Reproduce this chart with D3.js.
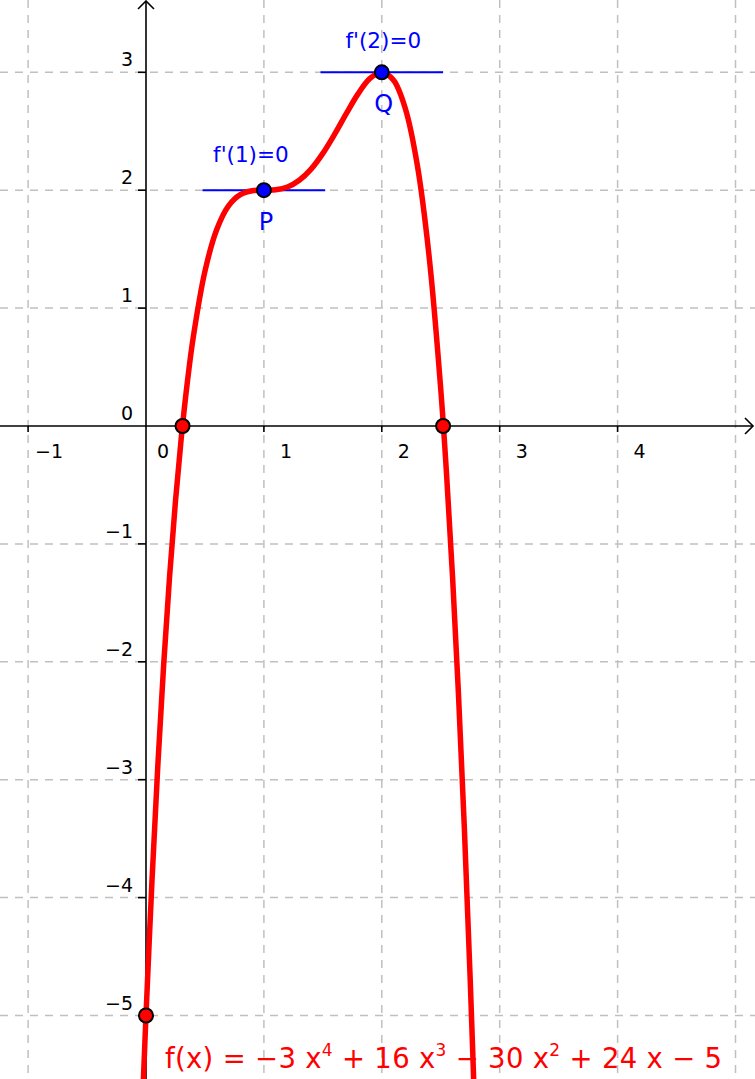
<!DOCTYPE html>
<html><head><meta charset="utf-8">
<script src="https://cdnjs.cloudflare.com/ajax/libs/d3/7.8.5/d3.min.js"></script>
<style>html,body{margin:0;padding:0;background:#fff;}svg{display:block;font-family:"DejaVu Sans",sans-serif;}</style>
</head><body>
<script>
// Curve samples: f(x) = -3x^4 + 16x^3 - 30x^2 + 24x - 5
const curveX = [-0.025,0,0.05,0.1,0.15,0.2,0.25,0.3,0.35,0.4,0.5,0.6,0.7,0.8,0.9,1.0,1.1,1.2,1.3,1.4,1.5,1.6,1.7,1.8,1.9,2.0,2.1,2.2,2.3,2.4,2.5,2.55,2.6,2.65,2.7,2.75,2.8];
const curveY = [-5.619,-5,-3.873,-2.884,-2.023,-1.277,-0.637,-0.092,0.366,0.747,1.3125,1.667,1.868,1.963,1.9957,2,2.0037,2.027,2.084,2.179,2.3125,2.475,2.652,2.819,2.948,3,2.932,2.691,2.220,1.451,0.3125,-0.4205,-1.277,-2.2675,-3.404,-4.699,-6.165];
const redPointsX = [0.31, 2.52, 0];
const redPointsY = [0, 0, -5];
const bluePointsX = [1, 2];
const bluePointsY = [2, 3];
const bluePointNames = ["P", "Q"];
const tangentLabels = ["f'(1)=0", "f'(2)=0"];
const tangentHalfWidth = 0.52;
const xTicks = [-1, 0, 1, 2, 3, 4];
const yTicks = [3, 2, 1, 0, -1, -2, -3, -4, -5];
const xGrid = [-1, 0, 1, 2, 3, 4, 5];
const yGrid = [3, 2, 1, 0, -1, -2, -3, -4, -5];

const W = 755, H = 1079;
const unit = 117.9;
const x0 = 146, y0 = 426;
const x = d3.scaleLinear().domain([-x0/unit, (W - x0)/unit]).range([0, W]);
const y = d3.scaleLinear().domain([-(H - y0)/unit, y0/unit]).range([H, 0]);
const fmt = v => v < 0 ? "\u2212" + Math.abs(v) : String(v);

const svg = d3.select("body").append("svg").attr("width", W).attr("height", H);

// grid
const grid = svg.append("g").attr("stroke", "#c0c0c0").attr("stroke-width", 1.5).attr("stroke-dasharray", "8,7");
grid.selectAll(".gx").data(xGrid.filter(v => v !== 0)).join("line")
  .attr("x1", d => x(d)).attr("x2", d => x(d)).attr("y1", 0).attr("y2", H);
grid.selectAll(".gy").data(yGrid.filter(v => v !== 0)).join("line")
  .attr("x1", 0).attr("x2", W).attr("y1", d => y(d)).attr("y2", d => y(d));

// axes
const ax = svg.append("g").attr("stroke", "#000").attr("stroke-width", 1.6).attr("fill", "none");
ax.append("line").attr("x1", 0).attr("x2", W - 2).attr("y1", y(0)).attr("y2", y(0));
ax.append("line").attr("x1", x(0)).attr("x2", x(0)).attr("y1", 1).attr("y2", H);
ax.append("path").attr("d", `M${W-10},${y(0)-8} L${W-2},${y(0)} L${W-10},${y(0)+8}`);
ax.append("path").attr("d", `M${x(0)-8},${9} L${x(0)},${1} L${x(0)+8},${9}`);
ax.selectAll(".tx").data(xTicks.filter(v => v !== 0)).join("line")
  .attr("x1", d => x(d)).attr("x2", d => x(d)).attr("y1", y(0)).attr("y2", y(0) + 6);
ax.selectAll(".ty").data(yTicks.filter(v => v !== 0)).join("line")
  .attr("x1", x(0) - 8).attr("x2", x(0)).attr("y1", d => y(d)).attr("y2", d => y(d));

// tick labels
svg.append("g").attr("font-size", 19).attr("fill", "#000")
  .selectAll("text").data(xTicks).join("text")
  .attr("x", d => x(d) + (d < 0 ? 7 : (d === 0 ? 11 : 16))).attr("y", y(0) + 32).text(fmt);
svg.append("g").attr("font-size", 19).attr("fill", "#000").attr("text-anchor", "end")
  .selectAll("text").data(yTicks).join("text")
  .attr("x", x(0) - 13).attr("y", d => y(d) - 6).text(fmt);

// tangents
const tg = svg.append("g").attr("stroke", "#0000ff").attr("stroke-width", 2);
tg.selectAll("line").data(bluePointsX).join("line")
  .attr("x1", d => x(d - tangentHalfWidth)).attr("x2", d => x(d + tangentHalfWidth))
  .attr("y1", (d, i) => y(bluePointsY[i])).attr("y2", (d, i) => y(bluePointsY[i]));

// curve
const pts = curveX.map((v, i) => [v, curveY[i]]);
svg.append("path").datum(pts)
  .attr("d", d3.line().x(d => x(d[0])).y(d => y(d[1])).curve(d3.curveCatmullRom.alpha(0.5)))
  .attr("fill", "none").attr("stroke", "#ff0000").attr("stroke-width", 5.5).attr("stroke-linejoin", "round");

// points
svg.append("g").selectAll("circle").data(redPointsX).join("circle")
  .attr("cx", d => x(d)).attr("cy", (d, i) => y(redPointsY[i])).attr("r", 7)
  .attr("fill", "#ff0000").attr("stroke", "#000").attr("stroke-width", 2);
svg.append("g").selectAll("circle").data(bluePointsX).join("circle")
  .attr("cx", d => x(d)).attr("cy", (d, i) => y(bluePointsY[i])).attr("r", 7)
  .attr("fill", "#0000ff").attr("stroke", "#000").attr("stroke-width", 2);

// labels
const lb = svg.append("g").attr("fill", "#0000ff").attr("text-anchor", "middle");
lb.selectAll(".tl").data(tangentLabels).join("text").attr("font-size", 21.5)
  .attr("x", (d, i) => x(bluePointsX[i]) + (i === 0 ? -13 : 1.5))
  .attr("y", (d, i) => y(bluePointsY[i]) + (i === 0 ? -28 : -24)).text(d => d);
lb.selectAll(".pn").data(bluePointNames).join("text").attr("font-size", 24)
  .attr("x", (d, i) => x(bluePointsX[i]) + 2)
  .attr("y", (d, i) => y(bluePointsY[i]) + 40).text(d => d);

// formula
const fm = svg.append("text").attr("x", 165).attr("y", 1068).attr("fill", "#ff0000").attr("font-size", 27.5).attr("letter-spacing", 0.3);
const parts = [["f(x) = \u22123 x", 0], ["4", 1], [" + 16 x", 0], ["3", 1], [" \u2212 30 x", 0], ["2", 1], [" + 24 x \u2212 5", 0]];
let sup = false;
parts.forEach(([t, s]) => {
  const ts = fm.append("tspan").text(t);
  if (s) { ts.attr("font-size", 17).attr("dy", -12); sup = true; }
  else if (sup) { ts.attr("dy", 12); sup = false; }
});
</script>
</body></html>
